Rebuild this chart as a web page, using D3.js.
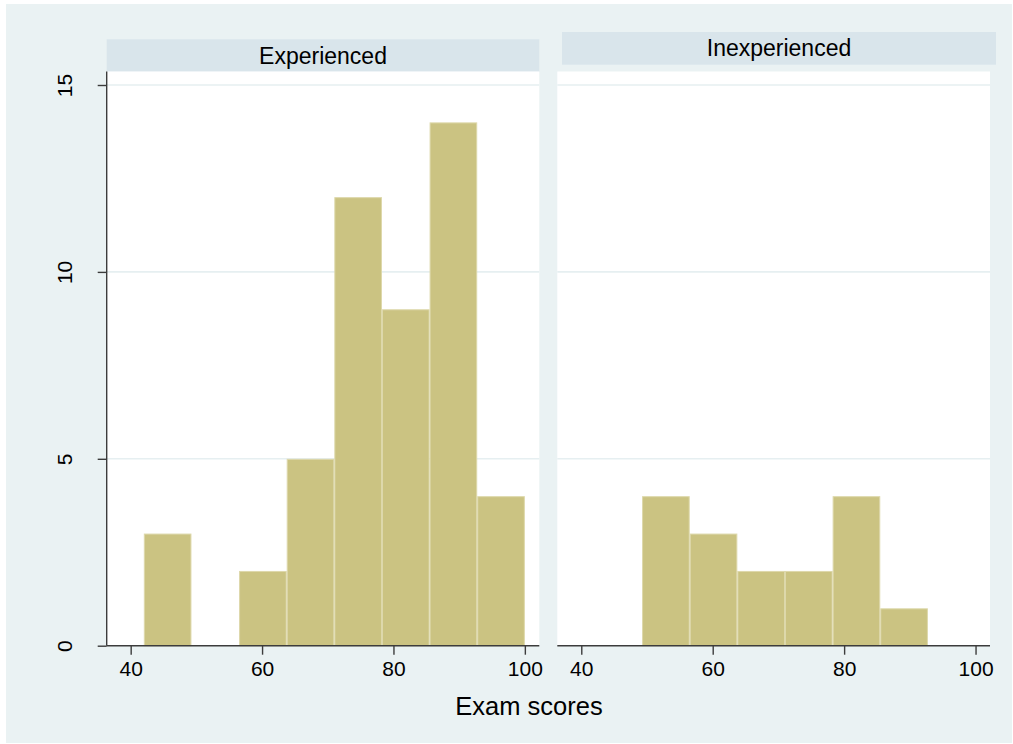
<!DOCTYPE html>
<html>
<head>
<meta charset="utf-8">
<script src="https://cdn.jsdelivr.net/npm/d3@7/dist/d3.min.js"></script>
<style>
  html, body { margin: 0; padding: 0; background: #ffffff; }
  svg { display: block; }
  text { font-family: Arial, "Liberation Sans", Helvetica, sans-serif; fill: #000; }
</style>
</head>
<body>
<svg id="chart" width="1013" height="744"></svg>
<script>
// Histogram bins: left edges, common width
const binStarts = [42, 49.25, 56.5, 63.75, 71, 78.25, 85.5, 92.75];
const binWidth = 7.25;

// Frequencies per bin for each group
const experienced   = [3, 0, 2, 5, 12, 9, 14, 4];
const inexperienced = [0, 4, 3, 2, 2, 4, 1, 0];

const panelTitles = ["Experienced", "Inexperienced"];
const xTicks = [40, 60, 80, 100];
const yTicks = [0, 5, 10, 15];
const xTitle = "Exam scores";

const svg = d3.select("#chart");
const W = 1013, H = 744;

const bgColor = "#EAF2F3";
const stripColor = "#D9E5EB";
const barFill = "#CBC382";
const barStroke = "#DDD8AB";
const axisColor = "#3c3c3c";
const gridColor = "#E6EFF1";

// Outer graph region
svg.append("rect").attr("x", 6).attr("y", 4).attr("width", W - 7).attr("height", H - 5)
  .attr("fill", bgColor);

const plotTop = 71.5, plotBottom = 645.7;
const y = d3.scaleLinear().domain([0, 15]).range([plotBottom, 85]);

const panels = [
  { title: panelTitles[0], counts: experienced, x0: 106.7, x1: 539.3,
    strip: { x0: 106.7, x1: 539.3, y0: 39.3, y1: 71.7 }, yAxis: true },
  { title: panelTitles[1], counts: inexperienced, x0: 557.3, x1: 990,
    strip: { x0: 562, x1: 996, y0: 32, y1: 64.7 }, yAxis: false }
];

panels.forEach(p => {
  const x = d3.scaleLinear().domain([36.35, 102.2]).range([p.x0, p.x1]);
  const g = svg.append("g");

  // Title strip
  g.append("rect")
    .attr("x", p.strip.x0).attr("y", p.strip.y0)
    .attr("width", p.strip.x1 - p.strip.x0).attr("height", p.strip.y1 - p.strip.y0)
    .attr("fill", stripColor);
  g.append("text")
    .attr("x", (p.strip.x0 + p.strip.x1) / 2)
    .attr("y", (p.strip.y0 + p.strip.y1) / 2 + 8)
    .attr("text-anchor", "middle")
    .style("font-size", "23px")
    .text(p.title);

  // Plot area
  g.append("rect")
    .attr("x", p.x0).attr("y", plotTop)
    .attr("width", p.x1 - p.x0).attr("height", plotBottom - plotTop)
    .attr("fill", "#ffffff");

  // Horizontal grid lines
  g.selectAll("line.grid").data(yTicks.filter(d => d > 0)).join("line")
    .attr("class", "grid")
    .attr("x1", p.x0).attr("x2", p.x1)
    .attr("y1", d => y(d)).attr("y2", d => y(d))
    .attr("stroke", gridColor).attr("stroke-width", 1.6);

  // Bars
  const bins = binStarts.map((s, i) => ({ x0: s, x1: s + binWidth, n: p.counts[i] }))
    .filter(b => b.n > 0);
  g.selectAll("rect.bar").data(bins).join("rect")
    .attr("class", "bar")
    .attr("x", d => x(d.x0) + 0.5)
    .attr("y", d => y(d.n) + 0.5)
    .attr("width", d => x(d.x1) - x(d.x0) - 1)
    .attr("height", d => y(0) - y(d.n) - 0.5)
    .attr("fill", barFill)
    .attr("stroke", barStroke)
    .attr("stroke-width", 1);

  // X axis
  const xAxis = d3.axisBottom(x).tickValues(xTicks).tickSize(9).tickPadding(6).tickSizeOuter(0);
  const xg = g.append("g").attr("transform", `translate(0,${plotBottom})`).call(xAxis);
  xg.select(".domain").attr("d", `M${p.x0},0H${p.x1}`)
    .attr("stroke", axisColor).attr("stroke-width", 1.4);
  xg.selectAll(".tick line").attr("stroke", axisColor).attr("stroke-width", 1.4);
  xg.selectAll(".tick text")
    .style("font-size", "21px")
    .style("font-family", "Arial, 'Liberation Sans', sans-serif")
    .attr("fill", "#000");

  // Y axis (left panel only)
  if (p.yAxis) {
    const yAxis = d3.axisLeft(y).tickValues(yTicks).tickSize(9).tickPadding(0).tickSizeOuter(0);
    const yg = g.append("g").attr("transform", `translate(${p.x0},0)`).call(yAxis);
    yg.select(".domain").attr("d", `M0,${plotTop}V${plotBottom}`)
      .attr("stroke", axisColor).attr("stroke-width", 1.4);
    yg.selectAll(".tick line").attr("stroke", axisColor).attr("stroke-width", 1.4);
    yg.selectAll(".tick text")
      .attr("x", 0).attr("dy", null)
      .attr("transform", "translate(-35,0) rotate(-90)")
      .attr("text-anchor", "middle")
      .style("font-size", "21px")
      .style("font-family", "Arial, 'Liberation Sans', sans-serif")
      .attr("fill", "#000");
  }
});

// X axis title
svg.append("text")
  .attr("x", 529).attr("y", 715)
  .attr("text-anchor", "middle")
  .style("font-size", "25.5px")
  .text(xTitle);
</script>
</body>
</html>
